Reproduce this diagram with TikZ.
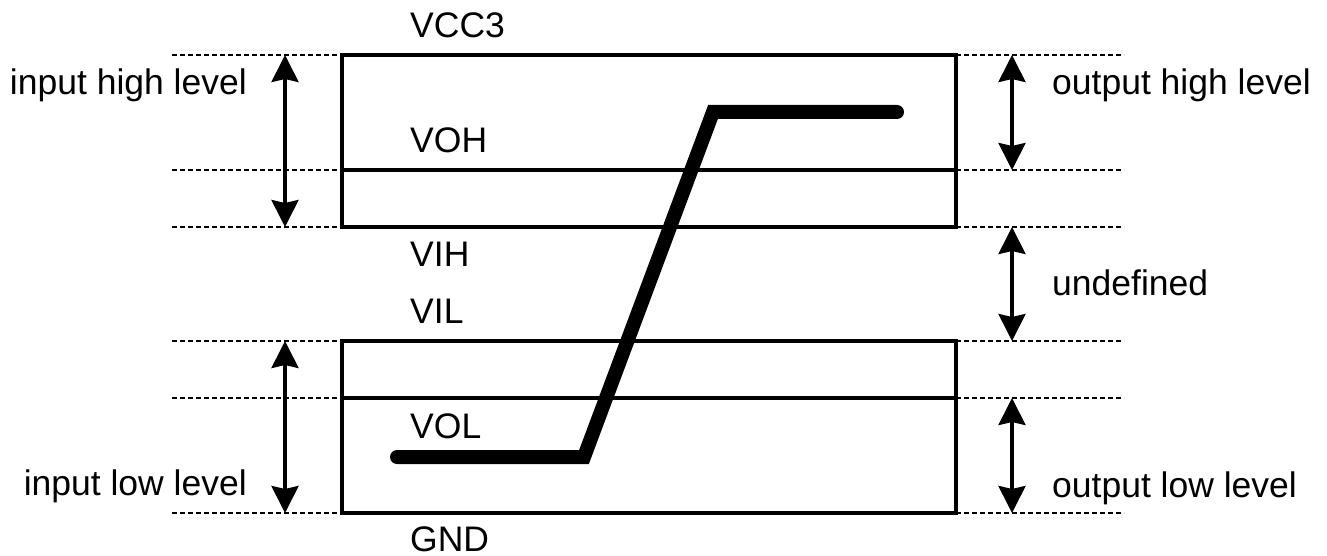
\documentclass[tikz,border=0pt]{standalone}
\usepackage{fontspec}
\setmainfont{Liberation Sans}
\usetikzlibrary{arrows.meta}
\begin{document}
\begin{tikzpicture}[x=1pt,y=-1pt,
  lbl/.style={font=\fontsize{35.5}{40}\selectfont, inner sep=0pt},
  guide/.style={line width=2.2pt, dash pattern=on 5pt off 3pt},
  frame/.style={line width=3.5pt},
  span/.style={line width=3.5pt,
    {Stealth[length=27pt,width=27pt,inset=3pt]}-{Stealth[length=27pt,width=27pt,inset=3pt]}},
  wave/.style={line width=14pt, line cap=round}]
\useasboundingbox (0,0) rectangle (1327,556);

% voltage levels: left guide end, box left, box right, right guide end
\foreach \n/\y in {vcc/55, voh/170, vih/227, vil/341, vol/398, gnd/513} {
  \coordinate (\n-gl) at (172,\y);
  \coordinate (\n-bl) at (342,\y);
  \coordinate (\n-br) at (956,\y);
  \coordinate (\n-gr) at (1124,\y);
  \coordinate (\n-al) at (285,\y);
  \coordinate (\n-ar) at (1012,\y);
}

% dotted guide lines outside the boxes
\foreach \n in {vcc, voh, vih, vil, vol, gnd} {
  \draw[guide] (\n-gl) -- (\n-bl);
  \draw[guide] (\n-br) -- (\n-gr);
}

% input/output bands
\draw[frame] (vcc-bl) rectangle (vih-br);
\draw[frame] (vil-bl) rectangle (gnd-br);
\draw[frame] (voh-bl) -- (voh-br);
\draw[frame] (vol-bl) -- (vol-br);

% range arrows
\draw[span] (vcc-al) -- (vih-al);
\draw[span] (vil-al) -- (gnd-al);
\draw[span] (vcc-ar) -- (voh-ar);
\draw[span] (vih-ar) -- (vil-ar);
\draw[span] (vol-ar) -- (gnd-ar);

% transfer characteristic
\coordinate (w0) at (397,457);
\coordinate (w1) at (584,457);
\coordinate (w2) at (713,112);
\coordinate (w3) at (897,112);
\draw[wave] (w0) -- (w1) -- (w2) -- (w3);

% level names
\node[lbl, anchor=base west] (tvcc) at (410,38) {VCC3};
\node[lbl, anchor=base west] (tvoh) at (410,153) {VOH};
\node[lbl, anchor=base west] (tvih) at (410,266) {VIH};
\node[lbl, anchor=base west] (tvil) at (410,323) {VIL};
\node[lbl, anchor=base west] (tvol) at (410,438) {VOL};
\node[lbl, anchor=base west] (tgnd) at (410,551) {GND};

% range names
\node[lbl, anchor=base east] (tih) at (247,95) {input high level};
\node[lbl, anchor=base east] (til) at (247,495) {input low level};
\node[lbl, anchor=base west] (toh) at (1052,95) {output high level};
\node[lbl, anchor=base west] (tund) at (1052,295) {undefined};
\node[lbl, anchor=base west] (tol) at (1052,497) {output low level};
\end{tikzpicture}
\end{document}
